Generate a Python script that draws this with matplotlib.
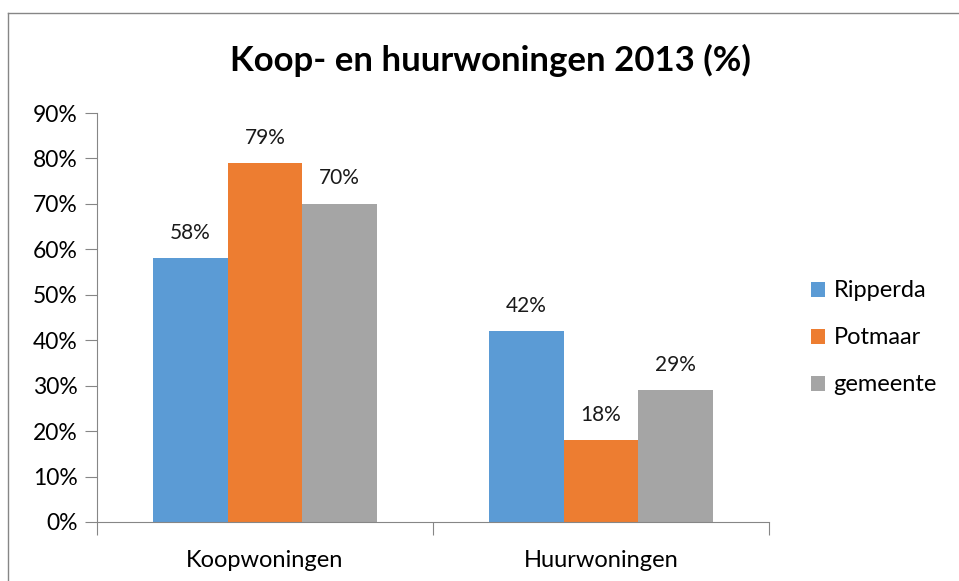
import matplotlib.pyplot as plt
import numpy as np
from matplotlib.lines import Line2D

# data
categories = ['Koopwoningen', 'Huurwoningen']
series = ['Ripperda', 'Potmaar', 'gemeente']
values = {
    'Ripperda': [58, 42],
    'Potmaar': [79, 18],
    'gemeente': [70, 29],
}
colors = {'Ripperda': '#5B9BD5', 'Potmaar': '#ED7D31', 'gemeente': '#A5A5A5'}

plt.rcParams['font.family'] = ['Lato', 'DejaVu Sans']

fig = plt.figure(figsize=(9.59, 5.81), dpi=100)
ax = fig.add_axes([97 / 959, 1 - 522 / 581, (769 - 97) / 959, (522 - 113) / 581])

# outer chart border (left and top visible)
fig.add_artist(Line2D([8 / 959, 8 / 959], [0, 1 - 13 / 581], transform=fig.transFigure,
                      color='#868686', lw=1))
fig.add_artist(Line2D([8 / 959, 1], [1 - 13 / 581, 1 - 13 / 581], transform=fig.transFigure,
                      color='#868686', lw=1))

x = np.arange(len(categories))
w = 0.222
for i, s in enumerate(series):
    pos = x + (i - 1) * w
    bars = ax.bar(pos, values[s], width=w, color=colors[s], label=s, zorder=2)
    for b, v in zip(bars, values[s]):
        ax.text(b.get_x() + b.get_width() / 2, v + 5.6, f'{v}%', ha='center', va='center',
                fontsize=15, color='#1a1a1a')

ax.set_xlim(-0.5, 1.5)
ax.set_ylim(0, 90)
ax.set_yticks(np.arange(0, 91, 10))
ax.set_yticklabels([f'{t}%' for t in range(0, 91, 10)], fontsize=16.5)
ax.set_xticks([-0.5, 0.5, 1.5])
ax.set_xticklabels([])
ax.set_xticks(x, minor=True)
ax.set_xticklabels(categories, minor=True, fontsize=17)
ax.tick_params(axis='x', which='minor', length=0, pad=20)
ax.tick_params(axis='x', which='major', length=9, color='#868686', direction='out')
ax.tick_params(axis='y', length=9, color='#868686', direction='out', pad=5)

for sp in ['top', 'right']:
    ax.spines[sp].set_visible(False)
for sp in ['left', 'bottom']:
    ax.spines[sp].set_color('#868686')

fig.text(490 / 959, 1 - 60 / 581, 'Koop- en huurwoningen 2013 (%)', ha='center', va='center',
         fontsize=25, fontweight='bold')

ax.legend(loc='center left', frameon=False, fontsize=17,
          handlelength=0.6, handleheight=0.6, handletextpad=0.35, labelspacing=1.1,
          borderpad=0, borderaxespad=0)
ax.get_legend().set_bbox_to_anchor((1.0625, 0.45), transform=ax.transAxes)

fig.savefig('out.png', dpi=100)
